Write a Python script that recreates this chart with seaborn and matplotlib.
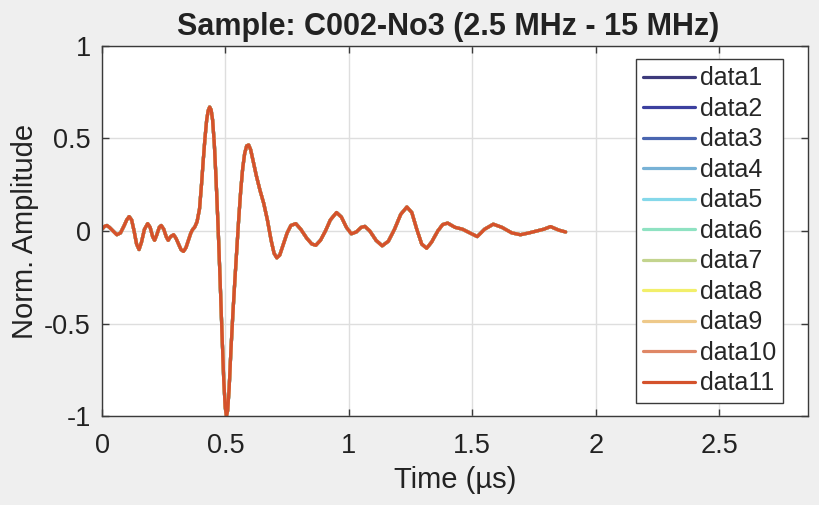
import matplotlib
matplotlib.use("Agg")
import matplotlib.pyplot as plt
import seaborn as sns
import pandas as pd

# ---- data ----
time_us = [0.00, 0.01, 0.02, 0.03, 0.045, 0.06, 0.075, 0.09, 0.10, 0.11, 0.12, 0.13,
           0.14, 0.15, 0.16, 0.172, 0.185, 0.195, 0.205, 0.213, 0.222, 0.232, 0.24,
           0.25, 0.26, 0.268, 0.278, 0.29, 0.30, 0.31, 0.32, 0.33, 0.34, 0.35, 0.36,
           0.368, 0.375, 0.385, 0.395, 0.403, 0.41, 0.417, 0.424, 0.43, 0.436, 0.442,
           0.448, 0.455, 0.462, 0.47, 0.478, 0.486, 0.493, 0.499, 0.504, 0.509, 0.515,
           0.522, 0.53, 0.538, 0.546, 0.554, 0.562, 0.57, 0.578, 0.586, 0.594, 0.602,
           0.612, 0.625, 0.64, 0.655, 0.67, 0.685, 0.697, 0.708, 0.72, 0.735, 0.75,
           0.765, 0.785, 0.805, 0.83, 0.85, 0.866, 0.885, 0.905, 0.925, 0.95, 0.97,
           0.99, 1.01, 1.03, 1.05, 1.065, 1.085, 1.11, 1.135, 1.16, 1.185, 1.21, 1.235,
           1.255, 1.275, 1.295, 1.315, 1.335, 1.36, 1.38, 1.40, 1.43, 1.46, 1.49, 1.52,
           1.55, 1.585, 1.62, 1.66, 1.695, 1.73, 1.76, 1.79, 1.817, 1.85, 1.878]
amplitude = [0.01, 0.025, 0.03, 0.02, 0.00, -0.02, -0.01, 0.03, 0.06, 0.078, 0.06, 0.00,
             -0.07, -0.10, -0.06, 0.01, 0.04, 0.02, -0.03, -0.05, -0.02, 0.02, 0.03,
             0.01, -0.03, -0.05, -0.03, -0.02, -0.04, -0.07, -0.10, -0.11, -0.09, -0.05, -0.01,
             0.01, 0.02, 0.05, 0.12, 0.25, 0.38, 0.50, 0.60, 0.65, 0.67, 0.655,
             0.60, 0.47, 0.28, 0.03, -0.25, -0.55, -0.80, -0.95, -1.00, -0.97, -0.85,
             -0.65, -0.45, -0.27, -0.10, 0.07, 0.22, 0.34, 0.42, 0.46, 0.465, 0.44,
             0.38, 0.30, 0.22, 0.15, 0.06, -0.05, -0.12, -0.145, -0.13, -0.07, -0.01,
             0.03, 0.04, 0.01, -0.04, -0.07, -0.077, -0.05, 0.00, 0.06, 0.10, 0.075,
             0.02, -0.015, -0.005, 0.02, 0.025, 0.00, -0.05, -0.08, -0.055, 0.01, 0.09, 0.13,
             0.10, 0.01, -0.07, -0.093, -0.06, 0.00, 0.035, 0.043, 0.02, 0.01, -0.01, -0.03,
             0.01, 0.037, 0.02, -0.01, -0.02, -0.01, 0.00, 0.01, 0.024, 0.005, -0.005]
series_names = ["data1", "data2", "data3", "data4", "data5", "data6",
                "data7", "data8", "data9", "data10", "data11"]
series_colors = ["#3d3a7c", "#3c409f", "#4a66b0", "#78b2d6", "#85d8ea", "#8fe2c2",
                 "#c3d48e", "#f2ef6a", "#eec98a", "#df8766", "#d4522c"]
x_ticks = [0, 0.5, 1, 1.5, 2, 2.5]
x_tick_labels = ["0", "0.5", "1", "1.5", "2", "2.5"]
y_ticks = [-1, -0.5, 0, 0.5, 1]
y_tick_labels = ["-1", "-0.5", "0", "0.5", "1"]
title_text = "Sample: C002-No3 (2.5 MHz - 15 MHz)"
x_label = "Time (µs)"
y_label = "Norm. Amplitude"

rows = []
for name in series_names:
    for t, a in zip(time_us, amplitude):
        rows.append({"t": t, "a": a, "series": name})
df = pd.DataFrame(rows)

sns.set_theme(style="white")
plt.rcParams["font.family"] = ["Liberation Sans Narrow", "Liberation Sans", "DejaVu Sans"]

fig = plt.figure(figsize=(8.2, 5.05), dpi=100, facecolor="#efefef")
ax = fig.add_axes([0.1244, 0.176, 0.861, 0.733])
ax.set_facecolor("white")

sns.lineplot(data=df, x="t", y="a", hue="series", hue_order=series_names,
             palette=series_colors, sort=False, estimator=None, linewidth=2.3,
             ax=ax, legend=True)

ax.set_xlim(0, 2.86)
ax.set_ylim(-1, 1)
ax.set_xticks(x_ticks)
ax.set_xticklabels(x_tick_labels)
ax.set_yticks(y_ticks)
ax.set_yticklabels(y_tick_labels)
ax.grid(True, color="#dedede", linewidth=1.0)
ax.set_axisbelow(True)
for s in ax.spines.values():
    s.set_color("#3a3a3a")
    s.set_linewidth(1.0)
ax.tick_params(direction="in", length=5, width=1.0, color="#3a3a3a",
               labelsize=19.5, labelcolor="#222222", top=True, right=True,
               bottom=True, left=True)
ax.tick_params(axis="x", pad=12)
ax.tick_params(axis="y", pad=8)
ax.set_xlabel(x_label, fontsize=21, color="#222222", labelpad=5)
ax.set_ylabel(y_label, fontsize=21, color="#222222", labelpad=4)
ax.set_title(title_text, fontsize=22, fontweight="bold", color="#222222", pad=8, x=0.49)

handles, labels = ax.get_legend_handles_labels()
leg = ax.legend(handles, labels, loc="upper right", bbox_to_anchor=(0.965, 0.965),
                fontsize=18, frameon=True, fancybox=False, framealpha=1,
                edgecolor="#3a3a3a", handlelength=2.05, handletextpad=0.2,
                labelspacing=0.26, borderpad=0.3, borderaxespad=0.0)
leg.get_frame().set_linewidth(1.0)
for line in leg.get_lines():
    line.set_linewidth(2.3)

fig.savefig("out.png", dpi=100, facecolor=fig.get_facecolor())
